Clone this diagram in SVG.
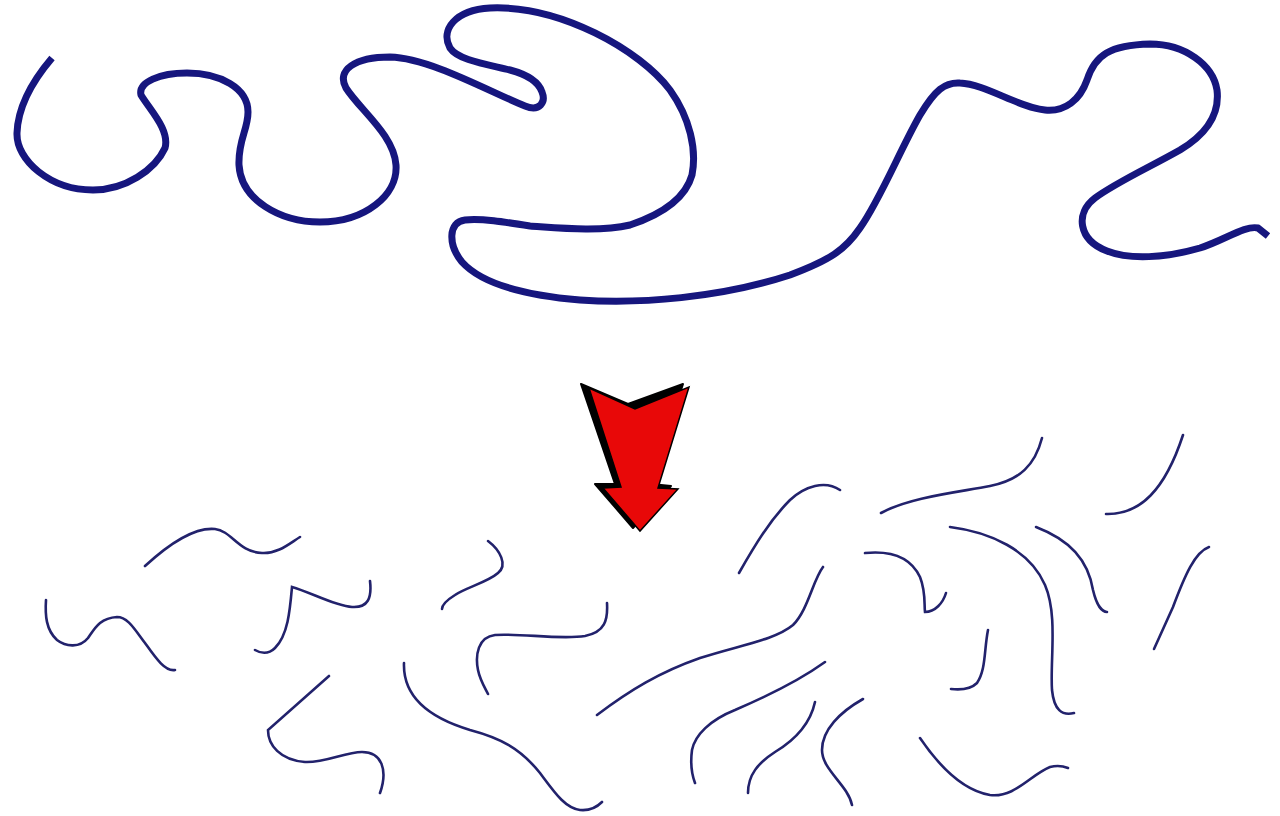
<svg xmlns="http://www.w3.org/2000/svg" width="1280" height="816" viewBox="0 0 1280 816">
<style>
.long{fill:none;stroke:#16167e;stroke-width:7;stroke-linecap:butt;stroke-linejoin:round}
.frag{fill:none;stroke:#22226c;stroke-width:2.6;stroke-linecap:round}
</style>
<rect width="1280" height="816" fill="#ffffff"/>
<g id="long-chain">
<path class="long" d="M52,58 C35,78 18,105 17,133 C16,160 50,190 93,190 C125,190 155,170 165,148 C170,130 150,110 141,95 C138,82 160,73 187,73 C220,73 248,88 248,112 C248,130 238,140 239,165 C241,200 280,222 320,222 C365,222 398,195 396,165 C394,135 360,110 346,88 C336,70 355,57 390,57 C430,58 490,92 525,106 C540,112 546,102 542,92 C538,80 525,74 510,70 C485,64 458,60 450,48 C440,30 455,10 490,8 C560,5 640,50 670,90 C690,118 697,150 692,175 C685,200 660,215 630,225 C600,232 560,228 530,226 C505,222 480,218 465,220 C448,222 448,245 462,262 C480,282 520,295 580,300 C640,304 720,298 790,275 C830,260 845,250 860,228 C880,200 900,150 920,115 C935,90 945,82 960,83 C985,84 1020,108 1045,110 C1065,112 1080,100 1087,80 C1095,55 1110,45 1150,44 C1185,44 1213,65 1217,90 C1220,115 1205,135 1180,150 C1150,167 1115,183 1095,198 C1075,213 1078,240 1107,251 C1130,260 1165,258 1200,248 C1225,240 1245,225 1258,228 L1268,236"/>
</g>
<g id="arrow">
<polygon points="581,384 628,404 683,384 651,484 671,486 633,528 595,484 615,484" fill="#000000" stroke="#000000" stroke-width="2" stroke-linejoin="round"/>
<polygon points="589,388 635,409 689,387 658,488 678,489 640,531 603,488 621,487" fill="#e80808" stroke="#000000" stroke-width="1.5" stroke-linejoin="miter"/>
</g>
<g id="fragments">
<path class="frag" d="M145,566 C170,543 195,527 215,529 C232,531 238,552 262,553 C278,554 290,543 300,537"/>
<path class="frag" d="M46,600 C45,615 46,630 57,640 C66,647 80,648 88,638 C95,628 100,618 117,617 C128,617 135,630 145,643 C155,657 165,672 175,670"/>
<path class="frag" d="M370,581 C372,598 368,608 352,607 C335,606 310,592 292,587 C290,610 288,635 275,648 C268,655 260,653 255,650"/>
<path class="frag" d="M329,676 L268,730 C268,745 280,760 305,762 C325,763 345,752 362,752 C382,752 388,770 380,793"/>
<path class="frag" d="M488,541 C500,550 508,565 498,573 C488,582 465,588 455,595 C447,600 442,605 442,609"/>
<path class="frag" d="M607,603 C608,620 605,632 585,636 C560,640 520,633 495,635 C478,637 475,655 478,670 C480,680 485,688 488,694"/>
<path class="frag" d="M404,663 C403,690 420,715 470,730 C500,738 520,748 540,773 C555,793 565,808 580,810 C590,811 598,806 602,802"/>
<path class="frag" d="M597,715 C630,690 660,672 700,658 C740,645 775,640 793,625 C808,610 813,580 823,567"/>
<path class="frag" d="M739,573 C755,545 770,520 790,500 C805,486 825,480 840,490"/>
<path class="frag" d="M825,662 C800,680 770,695 735,710 C710,720 695,735 692,750 C690,765 692,775 695,783"/>
<path class="frag" d="M815,702 C810,725 795,740 775,752 C758,763 748,775 748,793"/>
<path class="frag" d="M863,699 C840,712 822,730 822,750 C822,770 848,785 852,805"/>
<path class="frag" d="M881,513 C910,497 960,492 990,486 C1020,480 1035,465 1042,438"/>
<path class="frag" d="M1106,514 C1140,515 1165,490 1183,435"/>
<path class="frag" d="M865,553 C895,550 912,560 920,577 C926,592 924,605 925,612 C935,612 943,603 946,593"/>
<path class="frag" d="M950,527 C990,532 1030,550 1045,585 C1058,615 1050,660 1052,690 C1054,710 1062,716 1074,713"/>
<path class="frag" d="M1036,527 C1070,540 1088,560 1093,590 C1097,607 1103,612 1107,612"/>
<path class="frag" d="M1209,547 C1195,552 1185,575 1173,607 C1165,625 1158,640 1154,649"/>
<path class="frag" d="M988,630 C984,650 986,670 977,683 C970,690 960,690 951,689"/>
<path class="frag" d="M920,738 C935,760 960,790 990,795 C1015,798 1030,775 1050,767 C1058,765 1063,766 1068,768"/>
</g>
</svg>
